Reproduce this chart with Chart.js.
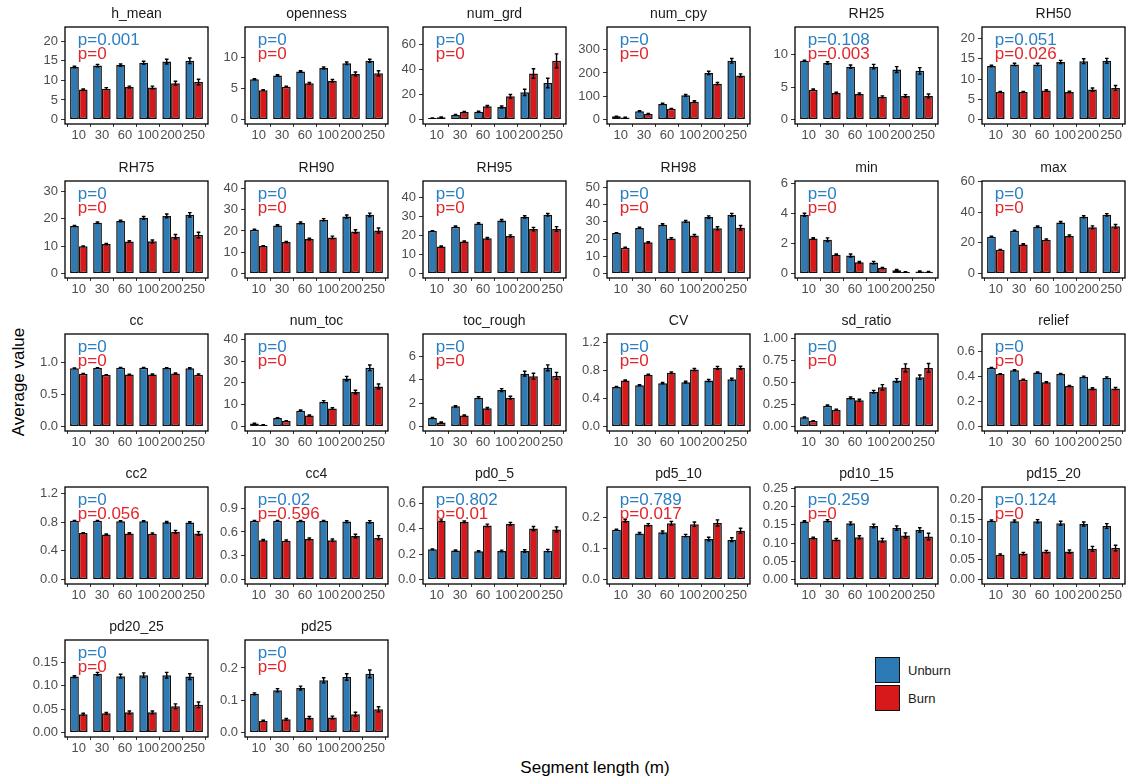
<!DOCTYPE html>
<html>
<head>
<meta charset="utf-8">
<script src="https://cdn.jsdelivr.net/npm/chart.js@4.4.0/dist/chart.umd.min.js"></script>
<style>
  html, body { margin: 0; padding: 0; background: #fff; }
  body { width: 1129px; height: 776px; position: relative; overflow: hidden;
         font-family: "Liberation Sans", Arial, sans-serif; }
  .panel { position: absolute; }
  .axis-title { position: absolute; color: #000; font-size: 17px; white-space: nowrap; line-height: 1; }
  .key { position: absolute; width: 25px; height: 26px; box-sizing: border-box; border: 1.3px solid #111; }
  .key-label { position: absolute; font-size: 13px; color: #1a1a1a; line-height: 1; }
</style>
</head>
<body>
<div class="axis-title" id="ytitle" style="left:18px; top:382px; transform: translate(-50%, -50%) rotate(-90deg);">Average value</div>
<div class="axis-title" id="xtitle" style="left:595px; top:767px; transform: translate(-50%, -50%);">Segment length (m)</div>
<div class="key" style="left:875px; top:657px; background:#2c7bb6;"></div>
<div class="key" style="left:875px; top:685px; background:#d7191c;"></div>
<div class="key-label" style="left:908px; top:664px;">Unburn</div>
<div class="key-label" style="left:908px; top:692px;">Burn</div>

<script>
// Segment lengths on the x axis
const segments = ['10', '30', '60', '100', '200', '250'];
const seriesNames = ['Unburn', 'Burn'];

// ---- metric values: mean and standard error per segment length ----
const hMeanUnburn = [13.4, 13.8, 13.9, 14.5, 14.8, 15.0];
const hMeanUnburnSE = [0.2, 0.3, 0.3, 0.4, 0.6, 0.7];
const hMeanBurn = [7.7, 7.9, 8.3, 8.2, 9.3, 9.6];
const hMeanBurnSE = [0.15, 0.25, 0.25, 0.35, 0.5, 0.7];
const hMeanTicks = ['0', '5', '10', '15', '20'];

const opennessUnburn = [6.45, 7.05, 7.7, 8.25, 9.0, 9.4];
const opennessUnburnSE = [0.08, 0.12, 0.12, 0.15, 0.2, 0.25];
const opennessBurn = [4.7, 5.25, 5.8, 6.2, 7.3, 7.4];
const opennessBurnSE = [0.07, 0.1, 0.15, 0.2, 0.3, 0.4];
const opennessTicks = ['0', '5', '10'];

const numGrdUnburn = [1.2, 3.7, 6.2, 10.1, 21.8, 29.2];
const numGrdUnburnSE = [0.2, 0.4, 0.5, 0.8, 2.5, 3.8];
const numGrdBurn = [1.8, 6.1, 10.7, 18.6, 36.8, 47.0];
const numGrdBurnSE = [0.3, 0.5, 0.7, 1.4, 3.8, 5.5];
const numGrdTicks = ['0', '20', '40', '60'];

const numCpyUnburn = [14, 36, 67, 104, 200, 252];
const numCpyUnburnSE = [1, 2, 3, 4, 7, 10];
const numCpyBurn = [9, 24, 46, 77, 154, 189];
const numCpyBurnSE = [1, 2, 2, 4, 5, 7];
const numCpyTicks = ['0', '100', '200', '300'];

const rh25Unburn = [9.05, 8.7, 8.15, 8.15, 7.7, 7.5];
const rh25UnburnSE = [0.1, 0.2, 0.25, 0.35, 0.45, 0.5];
const rh25Burn = [4.6, 4.1, 3.95, 3.5, 3.65, 3.65];
const rh25BurnSE = [0.1, 0.12, 0.15, 0.15, 0.2, 0.3];
const rh25Ticks = ['0', '5', '10'];

const rh50Unburn = [13.2, 13.6, 13.6, 14.2, 14.4, 14.5];
const rh50UnburnSE = [0.2, 0.3, 0.3, 0.4, 0.6, 0.6];
const rh50Burn = [6.8, 6.8, 7.2, 6.8, 7.4, 7.8];
const rh50BurnSE = [0.12, 0.15, 0.2, 0.2, 0.4, 0.6];
const rh50Ticks = ['0', '5', '10', '15', '20'];

const rh75Unburn = [17.4, 18.6, 19.2, 20.4, 21.1, 21.5];
const rh75UnburnSE = [0.2, 0.3, 0.3, 0.5, 0.7, 0.8];
const rh75Burn = [10.0, 10.8, 11.7, 11.8, 13.5, 14.1];
const rh75BurnSE = [0.15, 0.25, 0.3, 0.5, 0.8, 1.0];
const rh75Ticks = ['0', '10', '20', '30'];

const rh90Unburn = [20.6, 22.6, 23.8, 25.3, 26.8, 27.6];
const rh90UnburnSE = [0.2, 0.3, 0.4, 0.5, 0.7, 0.8];
const rh90Burn = [12.9, 14.8, 16.2, 17.0, 19.8, 20.2];
const rh90BurnSE = [0.2, 0.3, 0.4, 0.6, 0.8, 1.2];
const rh90Ticks = ['0', '10', '20', '30', '40'];

const rh95Unburn = [22.3, 24.6, 26.2, 27.8, 29.7, 30.8];
const rh95UnburnSE = [0.2, 0.3, 0.4, 0.5, 0.6, 0.7];
const rh95Burn = [14.2, 16.8, 18.5, 19.7, 23.3, 23.4];
const rh95BurnSE = [0.25, 0.3, 0.5, 0.6, 0.9, 1.2];
const rh95Ticks = ['0', '10', '20', '30', '40'];

const rh98Unburn = [23.5, 26.4, 28.3, 30.2, 32.7, 34.0];
const rh98UnburnSE = [0.2, 0.4, 0.5, 0.6, 0.7, 0.8];
const rh98Burn = [15.0, 18.1, 20.3, 22.0, 26.2, 26.5];
const rh98BurnSE = [0.3, 0.4, 0.5, 0.6, 0.9, 1.3];
const rh98Ticks = ['0', '10', '20', '30', '40', '50'];

const minUnburn = [3.9, 2.25, 1.2, 0.73, 0.22, 0.14];
const minUnburnSE = [0.1, 0.12, 0.1, 0.08, 0.05, 0.04];
const minBurn = [2.33, 1.25, 0.75, 0.37, 0.1, 0.12];
const minBurnSE = [0.05, 0.05, 0.05, 0.04, 0.02, 0.02];
const minTicks = ['0', '2', '4', '6'];

const maxUnburn = [24.0, 27.9, 30.5, 33.3, 37.0, 38.3];
const maxUnburnSE = [0.3, 0.4, 0.5, 0.6, 0.7, 0.8];
const maxBurn = [15.5, 19.0, 22.0, 24.5, 30.2, 30.8];
const maxBurnSE = [0.3, 0.4, 0.5, 0.6, 0.9, 1.2];
const maxTicks = ['0', '20', '40', '60'];

const ccUnburn = [0.905, 0.908, 0.912, 0.912, 0.908, 0.905];
const ccUnburnSE = [0.004, 0.004, 0.005, 0.005, 0.006, 0.007];
const ccBurn = [0.82, 0.80, 0.807, 0.808, 0.822, 0.806];
const ccBurnSE = [0.005, 0.005, 0.006, 0.007, 0.01, 0.012];
const ccTicks = ['0.0', '0.5', '1.0'];

const numTocUnburn = [1.4, 3.9, 7.3, 11.4, 22.0, 26.9];
const numTocUnburnSE = [0.1, 0.2, 0.3, 0.5, 1.0, 1.3];
const numTocBurn = [0.8, 2.6, 5.1, 8.3, 15.8, 18.4];
const numTocBurnSE = [0.1, 0.15, 0.25, 0.4, 0.8, 1.1];
const numTocTicks = ['0', '10', '20', '30', '40'];

const tocRoughUnburn = [0.74, 1.73, 2.47, 3.12, 4.52, 5.02];
const tocRoughUnburnSE = [0.05, 0.06, 0.08, 0.12, 0.2, 0.25];
const tocRoughBurn = [0.36, 0.94, 1.56, 2.47, 4.3, 4.33];
const tocRoughBurnSE = [0.03, 0.05, 0.08, 0.12, 0.25, 0.3];
const tocRoughTicks = ['0', '2', '4', '6'];

const cvUnburn = [0.565, 0.59, 0.62, 0.635, 0.66, 0.675];
const cvUnburnSE = [0.008, 0.008, 0.01, 0.012, 0.015, 0.015];
const cvBurn = [0.66, 0.74, 0.77, 0.815, 0.84, 0.84];
const cvBurnSE = [0.008, 0.01, 0.012, 0.015, 0.02, 0.022];
const cvTicks = ['0.0', '0.4', '0.8', '1.2'];

const sdRatioUnburn = [0.105, 0.237, 0.325, 0.395, 0.523, 0.56];
const sdRatioUnburnSE = [0.005, 0.008, 0.01, 0.015, 0.02, 0.025];
const sdRatioBurn = [0.064, 0.189, 0.298, 0.445, 0.666, 0.664];
const sdRatioBurnSE = [0.004, 0.008, 0.012, 0.03, 0.045, 0.05];
const sdRatioTicks = ['0.00', '0.25', '0.50', '0.75', '1.00'];

const reliefUnburn = [0.467, 0.448, 0.43, 0.418, 0.395, 0.388];
const reliefUnburnSE = [0.003, 0.004, 0.004, 0.005, 0.006, 0.007];
const reliefBurn = [0.417, 0.373, 0.352, 0.322, 0.302, 0.302];
const reliefBurnSE = [0.003, 0.004, 0.004, 0.005, 0.007, 0.008];
const reliefTicks = ['0.0', '0.2', '0.4', '0.6'];

const cc2Unburn = [0.82, 0.82, 0.815, 0.815, 0.80, 0.797];
const cc2UnburnSE = [0.004, 0.005, 0.006, 0.007, 0.01, 0.012];
const cc2Burn = [0.649, 0.63, 0.644, 0.64, 0.666, 0.644];
const cc2BurnSE = [0.006, 0.008, 0.01, 0.012, 0.02, 0.025];
const cc2Ticks = ['0.0', '0.4', '0.8', '1.2'];

const cc4Unburn = [0.74, 0.74, 0.738, 0.738, 0.73, 0.727];
const cc4UnburnSE = [0.005, 0.006, 0.007, 0.008, 0.012, 0.015];
const cc4Burn = [0.496, 0.488, 0.512, 0.496, 0.548, 0.528];
const cc4BurnSE = [0.008, 0.01, 0.012, 0.015, 0.022, 0.025];
const cc4Ticks = ['0.0', '0.3', '0.6', '0.9'];

const pd0to5Unburn = [0.237, 0.228, 0.222, 0.224, 0.224, 0.227];
const pd0to5UnburnSE = [0.004, 0.005, 0.005, 0.007, 0.01, 0.01];
const pd0to5Burn = [0.461, 0.453, 0.425, 0.437, 0.4, 0.393];
const pd0to5BurnSE = [0.007, 0.007, 0.01, 0.012, 0.016, 0.02];
const pd0to5Ticks = ['0.0', '0.2', '0.4', '0.6'];

const pd5to10Unburn = [0.161, 0.149, 0.153, 0.142, 0.131, 0.129];
const pd5to10UnburnSE = [0.002, 0.003, 0.004, 0.004, 0.006, 0.006];
const pd5to10Burn = [0.19, 0.177, 0.182, 0.179, 0.183, 0.158];
const pd5to10BurnSE = [0.004, 0.004, 0.006, 0.007, 0.01, 0.008];
const pd5to10Ticks = ['0.0', '0.1', '0.2'];

const pd10to15Unburn = [0.159, 0.161, 0.154, 0.147, 0.141, 0.136];
const pd10to15UnburnSE = [0.002, 0.003, 0.004, 0.005, 0.006, 0.006];
const pd10to15Burn = [0.114, 0.11, 0.116, 0.108, 0.121, 0.118];
const pd10to15BurnSE = [0.002, 0.003, 0.004, 0.005, 0.007, 0.009];
const pd10to15Ticks = ['0.00', '0.05', '0.10', '0.15', '0.20', '0.25'];

const pd15to20Unburn = [0.147, 0.146, 0.146, 0.141, 0.139, 0.134];
const pd15to20UnburnSE = [0.002, 0.003, 0.004, 0.005, 0.005, 0.006];
const pd15to20Burn = [0.062, 0.065, 0.07, 0.07, 0.077, 0.079];
const pd15to20BurnSE = [0.002, 0.003, 0.003, 0.004, 0.006, 0.007];
const pd15to20Ticks = ['0.00', '0.05', '0.10', '0.15', '0.20'];

const pd20to25Unburn = [0.119, 0.125, 0.12, 0.122, 0.122, 0.119];
const pd20to25UnburnSE = [0.002, 0.003, 0.004, 0.005, 0.006, 0.006];
const pd20to25Burn = [0.039, 0.041, 0.043, 0.043, 0.056, 0.059];
const pd20to25BurnSE = [0.002, 0.002, 0.003, 0.003, 0.005, 0.006];
const pd20to25Ticks = ['0.00', '0.05', '0.10', '0.15'];

const pd25Unburn = [0.12, 0.131, 0.138, 0.162, 0.172, 0.182];
const pd25UnburnSE = [0.003, 0.005, 0.006, 0.008, 0.01, 0.012];
const pd25Burn = [0.036, 0.041, 0.046, 0.047, 0.057, 0.072];
const pd25BurnSE = [0.002, 0.003, 0.004, 0.004, 0.006, 0.008];
const pd25Ticks = ['0.0', '0.1', '0.2'];

// Trend test p-values per metric (in facet order)
const metricNames = ['h_mean', 'openness', 'num_grd', 'num_cpy', 'RH25', 'RH50',
  'RH75', 'RH90', 'RH95', 'RH98', 'min', 'max',
  'cc', 'num_toc', 'toc_rough', 'CV', 'sd_ratio', 'relief',
  'cc2', 'cc4', 'pd0_5', 'pd5_10', 'pd10_15', 'pd15_20',
  'pd20_25', 'pd25'];
const pUnburn = ['0.001', '0', '0', '0', '0.108', '0.051',
  '0', '0', '0', '0', '0', '0',
  '0', '0', '0', '0', '0', '0',
  '0', '0.02', '0.802', '0.789', '0.259', '0.124',
  '0', '0'];
const pBurn = ['0', '0', '0', '0', '0.003', '0.026',
  '0', '0', '0', '0', '0', '0',
  '0', '0', '0', '0', '0', '0',
  '0.056', '0.596', '0.01', '0.017', '0', '0',
  '0', '0'];

// Table of facets assembled from the arrays above
const facets = [
  [hMeanUnburn, hMeanUnburnSE, hMeanBurn, hMeanBurnSE, hMeanTicks],
  [opennessUnburn, opennessUnburnSE, opennessBurn, opennessBurnSE, opennessTicks],
  [numGrdUnburn, numGrdUnburnSE, numGrdBurn, numGrdBurnSE, numGrdTicks],
  [numCpyUnburn, numCpyUnburnSE, numCpyBurn, numCpyBurnSE, numCpyTicks],
  [rh25Unburn, rh25UnburnSE, rh25Burn, rh25BurnSE, rh25Ticks],
  [rh50Unburn, rh50UnburnSE, rh50Burn, rh50BurnSE, rh50Ticks],
  [rh75Unburn, rh75UnburnSE, rh75Burn, rh75BurnSE, rh75Ticks],
  [rh90Unburn, rh90UnburnSE, rh90Burn, rh90BurnSE, rh90Ticks],
  [rh95Unburn, rh95UnburnSE, rh95Burn, rh95BurnSE, rh95Ticks],
  [rh98Unburn, rh98UnburnSE, rh98Burn, rh98BurnSE, rh98Ticks],
  [minUnburn, minUnburnSE, minBurn, minBurnSE, minTicks],
  [maxUnburn, maxUnburnSE, maxBurn, maxBurnSE, maxTicks],
  [ccUnburn, ccUnburnSE, ccBurn, ccBurnSE, ccTicks],
  [numTocUnburn, numTocUnburnSE, numTocBurn, numTocBurnSE, numTocTicks],
  [tocRoughUnburn, tocRoughUnburnSE, tocRoughBurn, tocRoughBurnSE, tocRoughTicks],
  [cvUnburn, cvUnburnSE, cvBurn, cvBurnSE, cvTicks],
  [sdRatioUnburn, sdRatioUnburnSE, sdRatioBurn, sdRatioBurnSE, sdRatioTicks],
  [reliefUnburn, reliefUnburnSE, reliefBurn, reliefBurnSE, reliefTicks],
  [cc2Unburn, cc2UnburnSE, cc2Burn, cc2BurnSE, cc2Ticks],
  [cc4Unburn, cc4UnburnSE, cc4Burn, cc4BurnSE, cc4Ticks],
  [pd0to5Unburn, pd0to5UnburnSE, pd0to5Burn, pd0to5BurnSE, pd0to5Ticks],
  [pd5to10Unburn, pd5to10UnburnSE, pd5to10Burn, pd5to10BurnSE, pd5to10Ticks],
  [pd10to15Unburn, pd10to15UnburnSE, pd10to15Burn, pd10to15BurnSE, pd10to15Ticks],
  [pd15to20Unburn, pd15to20UnburnSE, pd15to20Burn, pd15to20BurnSE, pd15to20Ticks],
  [pd20to25Unburn, pd20to25UnburnSE, pd20to25Burn, pd20to25BurnSE, pd20to25Ticks],
  [pd25Unburn, pd25UnburnSE, pd25Burn, pd25BurnSE, pd25Ticks]
];

// ---- styling / layout ----
const FONT = '"Liberation Sans", Arial, sans-serif';
const UNBURN_FILL = '#2c7bb6';
const BURN_FILL = '#d7191c';
const UNBURN_TEXT = '#2b7fc4';
const BURN_TEXT = '#e3262b';
const colLeft = [65, 245, 423, 607, 795, 982];
const rowTop = [27, 181, 334, 487, 640];
const PANEL_W = 143;
const PANEL_H = 97;
const AXIS_W = 50;   // room for y tick labels
const TOP_PAD = 22;  // room for the facet title
const X_AXIS_H = 22; // room for x tick labels

Chart.defaults.font.family = FONT;

// Error bars (mean ± SE) on top of every bar
const errorBars = {
  id: 'errorBars',
  afterDatasetsDraw(chart) {
    const ctx = chart.ctx;
    const y = chart.scales.y;
    ctx.save();
    ctx.strokeStyle = '#000';
    ctx.lineWidth = 1.4;
    chart.data.datasets.forEach((ds, di) => {
      const meta = chart.getDatasetMeta(di);
      meta.data.forEach((bar, i) => {
        const m = ds.data[i].y, se = ds.se[i];
        const yHi = y.getPixelForValue(m + se), yLo = y.getPixelForValue(m - se);
        const half = 1.8;
        ctx.beginPath();
        ctx.moveTo(bar.x, yHi); ctx.lineTo(bar.x, yLo);
        ctx.moveTo(bar.x - half, yHi); ctx.lineTo(bar.x + half, yHi);
        ctx.moveTo(bar.x - half, yLo); ctx.lineTo(bar.x + half, yLo);
        ctx.stroke();
      });
    });
    ctx.restore();
  }
};

// Facet title, panel frame and p-value annotations
const facetDecor = {
  id: 'facetDecor',
  afterDraw(chart, args, opts) {
    const ctx = chart.ctx;
    const a = chart.chartArea;
    const x = chart.scales.x;
    ctx.save();
    // frame
    ctx.strokeStyle = '#000';
    ctx.lineWidth = 1.3;
    ctx.strokeRect(a.left, a.top, a.right - a.left, a.bottom - a.top);
    // title
    ctx.fillStyle = '#1a1a1a';
    ctx.font = '14px ' + FONT;
    ctx.textAlign = 'center';
    ctx.textBaseline = 'alphabetic';
    ctx.fillText(opts.title, (a.left + a.right) / 2, a.top - 9);
    // p-values
    const px = x.getPixelForValue(0) - 1;
    ctx.textAlign = 'left';
    ctx.font = '17px ' + FONT;
    ctx.fillStyle = UNBURN_TEXT;
    ctx.fillText('p=' + opts.pU, px, a.top + 18);
    ctx.fillStyle = BURN_TEXT;
    ctx.fillText('p=' + opts.pB, px, a.top + 32);
    ctx.restore();
  }
};

facets.forEach((f, idx) => {
  const [uMean, uSE, bMean, bSE, tickLabels] = f;
  const col = idx % 6, row = Math.floor(idx / 6);
  const tickValues = tickLabels.map(Number);
  // ggplot-like range: annotation height = 1.5 × largest mean, 5% expansion
  const top = 1.5 * Math.max(...uMean, ...bMean);

  const holder = document.createElement('div');
  holder.className = 'panel';
  const w = AXIS_W + PANEL_W + 3;
  const h = TOP_PAD + PANEL_H + X_AXIS_H;
  holder.style.left = (colLeft[col] - AXIS_W) + 'px';
  holder.style.top = (rowTop[row] - TOP_PAD) + 'px';
  holder.style.width = w + 'px';
  holder.style.height = h + 'px';
  const canvas = document.createElement('canvas');
  canvas.width = w; canvas.height = h;
  canvas.style.width = w + 'px'; canvas.style.height = h + 'px';
  holder.appendChild(canvas);
  document.body.appendChild(holder);

  new Chart(canvas, {
    type: 'bar',
    data: {
      datasets: [
        { label: seriesNames[0], data: uMean.map((v, i) => ({ x: i, y: v })), se: uSE,
          backgroundColor: UNBURN_FILL, borderColor: '#111', borderWidth: 1.5, borderSkipped: false },
        { label: seriesNames[1], data: bMean.map((v, i) => ({ x: i, y: v })), se: bSE,
          backgroundColor: BURN_FILL, borderColor: '#111', borderWidth: 1.5, borderSkipped: false }
      ]
    },
    options: {
      responsive: false,
      animation: false,
      devicePixelRatio: 1,
      events: [],
      categoryPercentage: 0.76,
      barPercentage: 1.0,
      layout: { padding: { top: TOP_PAD, right: 3, left: 0, bottom: 0 } },
      plugins: {
        legend: { display: false },
        tooltip: { enabled: false },
        facetDecor: { title: metricNames[idx], pU: pUnburn[idx], pB: pBurn[idx] }
      },
      scales: {
        x: {
          type: 'linear', min: -0.6, max: 5.6, offset: false,
          afterBuildTicks: s => { s.ticks = segments.map((_, i) => ({ value: i })); },
          afterFit: s => { s.height = X_AXIS_H; },
          ticks: { callback: v => segments[Math.round(v)], color: '#4d4d4d',
                   font: { size: 13 }, padding: 1, maxRotation: 0, minRotation: 0, autoSkip: false },
          grid: { drawOnChartArea: false, drawTicks: true, tickLength: 3, color: '#333', lineWidth: 1 },
          border: { display: false }
        },
        y: {
          type: 'linear', min: -0.05 * top, max: 1.05 * top,
          afterBuildTicks: s => { s.ticks = tickValues.map(v => ({ value: v })); },
          afterFit: s => { s.width = AXIS_W; },
          ticks: { callback: (v, i) => tickLabels[i], color: '#4d4d4d',
                   font: { size: 13 }, padding: 3, autoSkip: false },
          grid: { drawOnChartArea: false, drawTicks: true, tickLength: 4, color: '#333', lineWidth: 1 },
          border: { display: false }
        }
      }
    },
    plugins: [errorBars, facetDecor]
  });
});
</script>
</body>
</html>
